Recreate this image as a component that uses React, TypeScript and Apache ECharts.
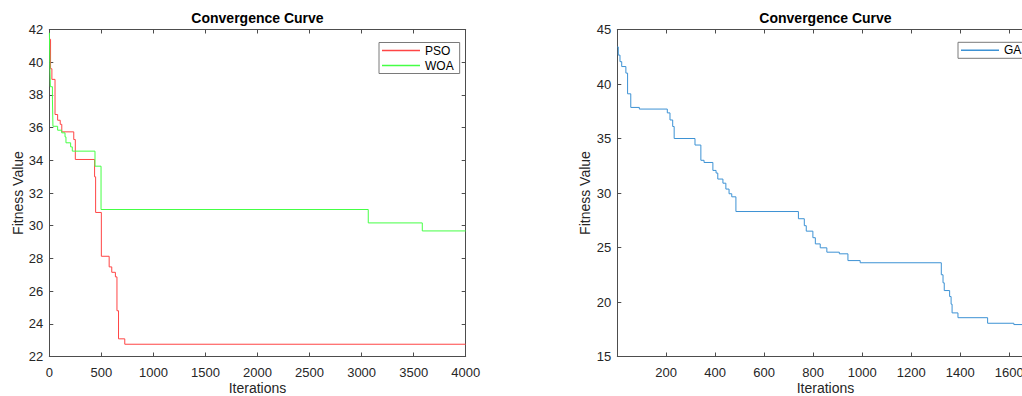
import React, { useEffect, useRef } from "react";
import * as echarts from "echarts";

// [iteration where a new best value starts, best fitness value]
const psoSteps: [number, number][] = [
  [1, 41.4], [12, 39.6], [25, 38.95], [55, 36.8], [80, 36.45], [105, 36.2],
  [120, 35.74], [235, 35.27], [250, 34.05], [435, 32.99], [445, 30.81],
  [500, 28.13], [575, 27.48], [600, 27.15], [635, 26.87], [650, 24.8],
  [665, 23.08], [725, 22.75], [4000, 22.75],
];
const woaSteps: [number, number][] = [
  [1, 41.8], [5, 40.0], [10, 38.5], [30, 37.74], [35, 36.08], [80, 35.84],
  [119, 35.68], [151, 35.43], [160, 35.07], [205, 34.82], [221, 34.56],
  [439, 33.64], [497, 30.99], [3064, 30.17], [3583, 29.68], [4000, 29.68],
];
const gaSteps: [number, number][] = [
  [1, 43.4], [5, 42.65], [12, 42.05], [19, 41.6], [36, 41.0], [43, 39.1],
  [56, 37.85], [91, 37.7], [205, 37.35], [216, 36.7], [227, 36.1], [233, 35.0],
  [318, 34.4], [342, 33.0], [355, 32.8], [391, 32.07], [404, 31.83],
  [411, 31.28], [432, 30.9], [444, 30.36], [457, 29.93], [468, 29.65],
  [485, 28.3], [740, 27.64], [764, 27.0], [772, 26.5], [799, 25.9],
  [809, 25.33], [829, 24.97], [856, 24.57], [907, 24.42], [942, 23.8],
  [992, 23.6], [1323, 22.5], [1330, 21.76], [1335, 21.05], [1357, 20.5],
  [1363, 19.8], [1367, 19.0], [1391, 18.56], [1512, 18.05], [1619, 17.93],
  [1700, 17.93],
];
const gaTicks = [200, 400, 600, 800, 1000, 1200, 1400, 1600];

const FONT = '"Liberation Sans", Arial, Helvetica, sans-serif';
const AXIS_COLOR = "#4d4d4d";
const LABEL_COLOR = "#262626";

export default function App() {
  const ref = useRef<HTMLDivElement>(null);
  useEffect(() => {
    if (!ref.current) return;
    const chart = echarts.init(ref.current, undefined, { renderer: "svg" });
    const axisLine = { show: true, onZero: false, lineStyle: { color: AXIS_COLOR, width: 1 } };
    const tick = { show: true, inside: true, length: 4, lineStyle: { color: AXIS_COLOR } };
    const plain = (v: number) => String(v);
    const lbl = { color: LABEL_COLOR, fontSize: 13, fontFamily: FONT, formatter: plain };
    const nameStyle = { color: LABEL_COLOR, fontSize: 14, fontFamily: FONT, lineHeight: 14 };

    const leftX = { min: 0, max: 4000, interval: 500 };
    const leftY = { min: 22, max: 42, interval: 2 };
    const rightX = { min: 1, max: 1700 };
    const rightY = { min: 15, max: 45, interval: 5 };

    const legendCommon = {
      orient: "vertical", icon: "rect",
      itemWidth: 38, itemHeight: 1.5, itemGap: 3, padding: [2, 6, 2, 3],
      borderColor: "#7a7a7a", borderWidth: 1, backgroundColor: "#ffffff",
      textStyle: { fontSize: 12, color: "#000", fontFamily: FONT, lineHeight: 12 },
    };

    chart.setOption({
      animation: false,
      backgroundColor: "#ffffff",
      textStyle: { fontFamily: FONT },
      grid: [
        { left: 49.3, top: 29.5, width: 416.4, height: 327, containLabel: false, outerBoundsMode: "none" },
        { left: 617.3, top: 29.5, width: 416.4, height: 327, containLabel: false, outerBoundsMode: "none" },
      ],
      xAxis: [
        {
          type: "value", gridIndex: 0, position: "bottom", ...leftX,
          axisLine, axisTick: tick, splitLine: { show: false },
          axisLabel: { ...lbl, margin: 9 },
          name: "Iterations", nameLocation: "middle", nameGap: 24, nameMoveOverlap: false,
          nameTextStyle: nameStyle,
        },
        {
          type: "value", gridIndex: 0, position: "top", ...leftX,
          axisLine, axisTick: tick, splitLine: { show: false }, axisLabel: { show: false },
        },
        {
          type: "value", gridIndex: 1, position: "bottom", ...rightX,
          axisLine, axisTick: { ...tick, customValues: gaTicks }, splitLine: { show: false },
          axisLabel: { ...lbl, margin: 9, customValues: gaTicks },
          name: "Iterations", nameLocation: "middle", nameGap: 24, nameMoveOverlap: false,
          nameTextStyle: nameStyle,
        },
        {
          type: "value", gridIndex: 1, position: "top", ...rightX,
          axisLine, axisTick: { ...tick, customValues: gaTicks }, splitLine: { show: false },
          axisLabel: { show: false, customValues: gaTicks },
        },
      ],
      yAxis: [
        {
          type: "value", gridIndex: 0, position: "left", ...leftY,
          axisLine, axisTick: tick, splitLine: { show: false },
          axisLabel: { ...lbl, margin: 6 },
          name: "Fitness Value", nameLocation: "middle", nameGap: 24, nameMoveOverlap: false,
          nameTextStyle: nameStyle,
        },
        {
          type: "value", gridIndex: 0, position: "right", ...leftY,
          axisLine, axisTick: tick, splitLine: { show: false }, axisLabel: { show: false },
        },
        {
          type: "value", gridIndex: 1, position: "left", ...rightY,
          axisLine, axisTick: tick, splitLine: { show: false },
          axisLabel: { ...lbl, margin: 6 },
          name: "Fitness Value", nameLocation: "middle", nameGap: 25, nameMoveOverlap: false,
          nameTextStyle: nameStyle,
        },
        {
          type: "value", gridIndex: 1, position: "right", ...rightY,
          axisLine, axisTick: tick, splitLine: { show: false }, axisLabel: { show: false },
        },
      ],
      legend: [
        { ...legendCommon, data: ["PSO", "WOA"], left: 379, top: 42.5 },
        { ...legendCommon, data: ["GA"], left: 958, top: 42.3 },
      ],
      graphic: [
        {
          type: "text", x: 257.5, y: 18,
          style: {
            text: "Convergence Curve", fontSize: 14, fontWeight: "bold", fontFamily: FONT,
            fill: "#000", align: "center", verticalAlign: "middle",
          },
        },
        {
          type: "text", x: 825.5, y: 18,
          style: {
            text: "Convergence Curve", fontSize: 14, fontWeight: "bold", fontFamily: FONT,
            fill: "#000", align: "center", verticalAlign: "middle",
          },
        },
      ],
      series: [
        {
          name: "PSO", type: "line", xAxisIndex: 0, yAxisIndex: 0, data: psoSteps,
          step: "end", symbol: "none", lineStyle: { color: "#ff4545", width: 1 }, itemStyle: { color: "#ff4545" },
        },
        {
          name: "WOA", type: "line", xAxisIndex: 0, yAxisIndex: 0, data: woaSteps,
          step: "end", symbol: "none", lineStyle: { color: "#45ff45", width: 1 }, itemStyle: { color: "#45ff45" },
        },
        {
          name: "GA", type: "line", xAxisIndex: 2, yAxisIndex: 2, data: gaSteps,
          step: "end", symbol: "none", lineStyle: { color: "#3d92d4", width: 1 }, itemStyle: { color: "#3d92d4" },
        },
      ],
    });
    return () => chart.dispose();
  }, []);

  return (
    <div style={{ position: "fixed", left: 0, top: 0, width: 1022, height: 396, overflow: "hidden", background: "#fff" }}>
      <div ref={ref} style={{ width: 1060, height: 396 }} />
    </div>
  );
}
